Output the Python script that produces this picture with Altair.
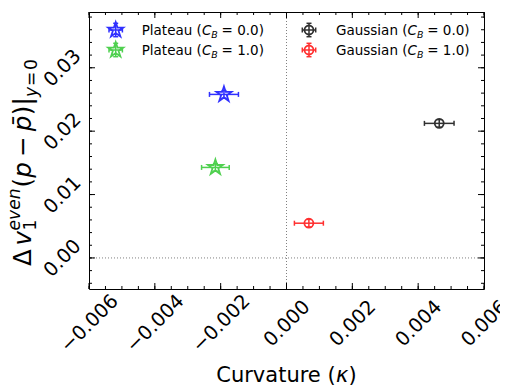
import altair as alt
import pandas as pd

# ---------------- data ----------------
series = ["Plateau (C_B = 0.0)", "Plateau (C_B = 1.0)",
          "Gaussian (C_B = 0.0)", "Gaussian (C_B = 1.0)"]
kappa = [-0.00190, -0.00216, 0.00464, 0.00068]
kappa_err = [0.00044, 0.00042, 0.00045, 0.00044]
dv1 = [0.02580, 0.01428, 0.02123, 0.00548]
dv1_err = [0.0006, 0.0006, 0.0006, 0.0006]
legend_names = ["Plateau (", "Plateau (", "Gaussian (", "Gaussian ("]
legend_cb = ["= 0.0)", "= 1.0)", "= 0.0)", "= 1.0)"]
colors = ["#3030ff", "#4fd04f", "#303030", "#ff3030"]

x_major = [-0.006, -0.004, -0.002, 0.0, 0.002, 0.004, 0.006]
y_major = [0.00, 0.01, 0.02, 0.03]
x_minor = [round(-0.006 + i * 0.0005, 6) for i in range(25)]
y_minor = [round(-0.004 + i * 0.002, 6) for i in range(22)]
x_domain = [-0.006, 0.006]
y_domain = [-0.0049, 0.0388]

# ---------------- layout ----------------
W, H = 395, 277
FONT = "DejaVu Sans"
TICK_FS = 19.5
TITLE_FS = 21
YT_FS = 24.5
LEG_FS = 13.5
STAR_SIZE = 250

STAR = ("M0,-1L0.2245,-0.309L0.951,-0.309L0.363,0.118L0.588,0.809L0,0.382"
        "L-0.588,0.809L-0.363,0.118L-0.951,-0.309L-0.2245,-0.309Z")

df = pd.DataFrame({"series": series, "kappa": kappa, "kerr": kappa_err,
                   "dv1": dv1, "yerr": dv1_err})
df["klo"] = df["kappa"] - df["kerr"]
df["khi"] = df["kappa"] + df["kerr"]
df["ylo"] = df["dv1"] - df["yerr"]
df["yhi"] = df["dv1"] + df["yerr"]

xs = alt.Scale(domain=x_domain, nice=False, zero=False)
ys = alt.Scale(domain=y_domain, nice=False, zero=False)

x_axis = alt.Axis(values=x_major, format=".3f", labelAngle=-45, labelAlign="center",
                  labelBaseline="middle", labelPadding=34, labelFontSize=TICK_FS,
                  labelFont=FONT, labelColor="black", ticks=False, domain=False,
                  grid=False, labelOverlap=False, labelFlush=False, title=None)
y_axis = alt.Axis(values=y_major, format=".2f", labelAngle=-45, labelAlign="center",
                  labelBaseline="middle", labelPadding=27, labelFontSize=TICK_FS,
                  labelFont=FONT, labelColor="black", ticks=False, domain=False,
                  grid=False, labelOverlap=False, labelFlush=False, title=None)


def X(f):
    return alt.X(f"{f}:Q", scale=xs, axis=x_axis)


def Y(f):
    return alt.Y(f"{f}:Q", scale=ys, axis=y_axis)


color = alt.Color("series:N", scale=alt.Scale(domain=series, range=colors), legend=None)
base = alt.Chart(df)

layers = []

# zero reference lines
zero = alt.Chart(pd.DataFrame({"v": [0.0]}))
layers.append(zero.mark_rule(color="#808080", strokeDash=[1, 2], strokeWidth=1).encode(x=X("v")))
layers.append(zero.mark_rule(color="#808080", strokeDash=[1, 2], strokeWidth=1).encode(y=Y("v")))

# inward ticks on all four sides
xm = alt.Chart(pd.DataFrame({"v": x_major}))
xn = alt.Chart(pd.DataFrame({"v": x_minor}))
ym = alt.Chart(pd.DataFrame({"v": y_major}))
yn = alt.Chart(pd.DataFrame({"v": y_minor}))
for src, ln in ((xm, 6), (xn, 3)):
    layers.append(src.mark_rule(color="black", strokeWidth=1).encode(
        x=X("v"), y=alt.value(H), y2=alt.value(H - ln)))
    layers.append(src.mark_rule(color="black", strokeWidth=1).encode(
        x=X("v"), y=alt.value(0), y2=alt.value(ln)))
for src, ln in ((ym, 6), (yn, 3)):
    layers.append(src.mark_rule(color="black", strokeWidth=1).encode(
        y=Y("v"), x=alt.value(0), x2=alt.value(ln)))
    layers.append(src.mark_rule(color="black", strokeWidth=1).encode(
        y=Y("v"), x=alt.value(W), x2=alt.value(W - ln)))

# error bars
layers.append(base.mark_rule(strokeWidth=1.5).encode(x=X("klo"), x2="khi", y=Y("dv1"), color=color))
layers.append(base.mark_rule(strokeWidth=1.5).encode(x=X("kappa"), y=Y("ylo"), y2="yhi", color=color))
for f in ("klo", "khi"):
    layers.append(base.mark_tick(orient="vertical", size=5, thickness=1.5, opacity=1).encode(
        x=X(f), y=Y("dv1"), color=color))
for f in ("ylo", "yhi"):
    layers.append(base.mark_tick(orient="horizontal", size=5, thickness=1.5, opacity=1).encode(
        x=X("kappa"), y=Y(f), color=color))

# markers
layers.append(base.transform_filter(alt.FieldOneOfPredicate(field="series", oneOf=series[:2]))
              .mark_point(shape=STAR, size=STAR_SIZE, filled=False, strokeWidth=1.8, opacity=1)
              .encode(x=X("kappa"), y=Y("dv1"), color=color))
layers.append(base.transform_filter(alt.FieldOneOfPredicate(field="series", oneOf=series[2:]))
              .mark_point(shape="circle", size=81, filled=False, strokeWidth=1.8, opacity=1)
              .encode(x=X("kappa"), y=Y("dv1"), color=color))

# ---------------- manual legend ----------------
one = alt.Chart(pd.DataFrame({"a": [0]}))
mx_col = [26.7, 220.0]
tx_col = [52.7, 247.0]
my_row = [18.0, 38.0]
c_off = [60.2, 71.5]
for i in range(4):
    col, row = i // 2, i % 2
    mx, my, tx = mx_col[col], my_row[row], tx_col[col]
    c = colors[i]
    e = 6.7
    layers.append(one.mark_rule(color=c, strokeWidth=1.5).encode(
        x=alt.value(mx - e), x2=alt.value(mx + e), y=alt.value(my)))
    layers.append(one.mark_rule(color=c, strokeWidth=1.5).encode(
        x=alt.value(mx), y=alt.value(my - e), y2=alt.value(my + e)))
    for s in (-1, 1):
        layers.append(one.mark_rule(color=c, strokeWidth=1.5).encode(
            x=alt.value(mx + s * e), y=alt.value(my - 2.5), y2=alt.value(my + 2.5)))
        layers.append(one.mark_rule(color=c, strokeWidth=1.5).encode(
            x=alt.value(mx - 2.5), x2=alt.value(mx + 2.5), y=alt.value(my + s * e)))
    if col == 0:
        layers.append(one.mark_point(shape=STAR, size=STAR_SIZE, filled=False, strokeWidth=1.8,
                                     opacity=1, color=c).encode(x=alt.value(mx), y=alt.value(my)))
    else:
        layers.append(one.mark_point(shape="circle", size=81, filled=False, strokeWidth=1.8,
                                     opacity=1, color=c).encode(x=alt.value(mx), y=alt.value(my)))
    yb = my + 5
    co = c_off[col]
    layers.append(one.mark_text(text=legend_names[i], align="left", baseline="alphabetic",
                                font=FONT, fontSize=LEG_FS, color="black").encode(
        x=alt.value(tx), y=alt.value(yb)))
    layers.append(one.mark_text(text="C", align="left", baseline="alphabetic", font=FONT,
                                fontSize=LEG_FS, fontStyle="italic", color="black").encode(
        x=alt.value(tx + co), y=alt.value(yb)))
    layers.append(one.mark_text(text="B", align="left", baseline="alphabetic", font=FONT,
                                fontSize=LEG_FS * 0.7, fontStyle="italic", color="black").encode(
        x=alt.value(tx + co + 9.4), y=alt.value(yb + 3)))
    layers.append(one.mark_text(text=legend_cb[i], align="left", baseline="alphabetic",
                                font=FONT, fontSize=LEG_FS, color="black").encode(
        x=alt.value(tx + co + 19.7), y=alt.value(yb)))

# ---------------- x-axis title (with italic kappa) ----------------
xt_pieces = [("Curvature (", 0.0, False), ("κ", 5.708, True), (")", 6.30, False)]
XT_X0 = W / 2 - 6.69 * TITLE_FS / 2
for txt, dxe, it in xt_pieces:
    kw = dict(text=txt, align="left", baseline="middle", font=FONT, fontSize=TITLE_FS,
              dx=dxe * TITLE_FS, color="black")
    if it:
        kw["fontStyle"] = "italic"
    layers.append(one.mark_text(**kw).encode(x=alt.value(XT_X0), y=alt.value(H + 87)))

# ---------------- y-axis title (math pieces) ----------------
yt_pieces = [
    ("Δ", 0.00, 0.00, 1.0, False),
    ("v", 0.84, 0.00, 1.0, True),
    ("1", 1.45, 0.22, 0.7, False),
    ("even", 1.45, -0.45, 0.7, True),
    ("(", 3.20, 0.00, 1.0, False),
    ("p", 3.60, 0.00, 1.0, True),
    ("−", 4.45, 0.00, 1.0, False),
    ("p\u0304", 5.50, 0.00, 1.0, True),
    (")", 6.15, 0.00, 1.0, False),
    ("|", 6.55, 0.00, 1.0, False),
    ("y", 6.90, 0.25, 0.7, True),
    ("=", 7.35, 0.25, 0.7, False),
    ("0", 8.00, 0.25, 0.7, False),
]
YT_X, YT_Y = -58, 254
for txt, dxe, dye, sz, it in yt_pieces:
    kw = dict(text=txt, align="left", baseline="alphabetic", font=FONT,
              fontSize=YT_FS * sz, angle=270, dx=dxe * YT_FS, dy=dye * YT_FS, color="black")
    if it:
        kw["fontStyle"] = "italic"
    layers.append(one.mark_text(**kw).encode(x=alt.value(YT_X), y=alt.value(YT_Y)))

chart = alt.layer(*layers).properties(
    width=W, height=H,
    autosize=alt.AutoSizeParams(type="none"),
    padding={"left": 81, "top": 4, "right": 16, "bottom": 100},
).configure_view(stroke="black", strokeWidth=1)

chart.save("out.html", embed_options={"renderer": "svg", "actions": False})
